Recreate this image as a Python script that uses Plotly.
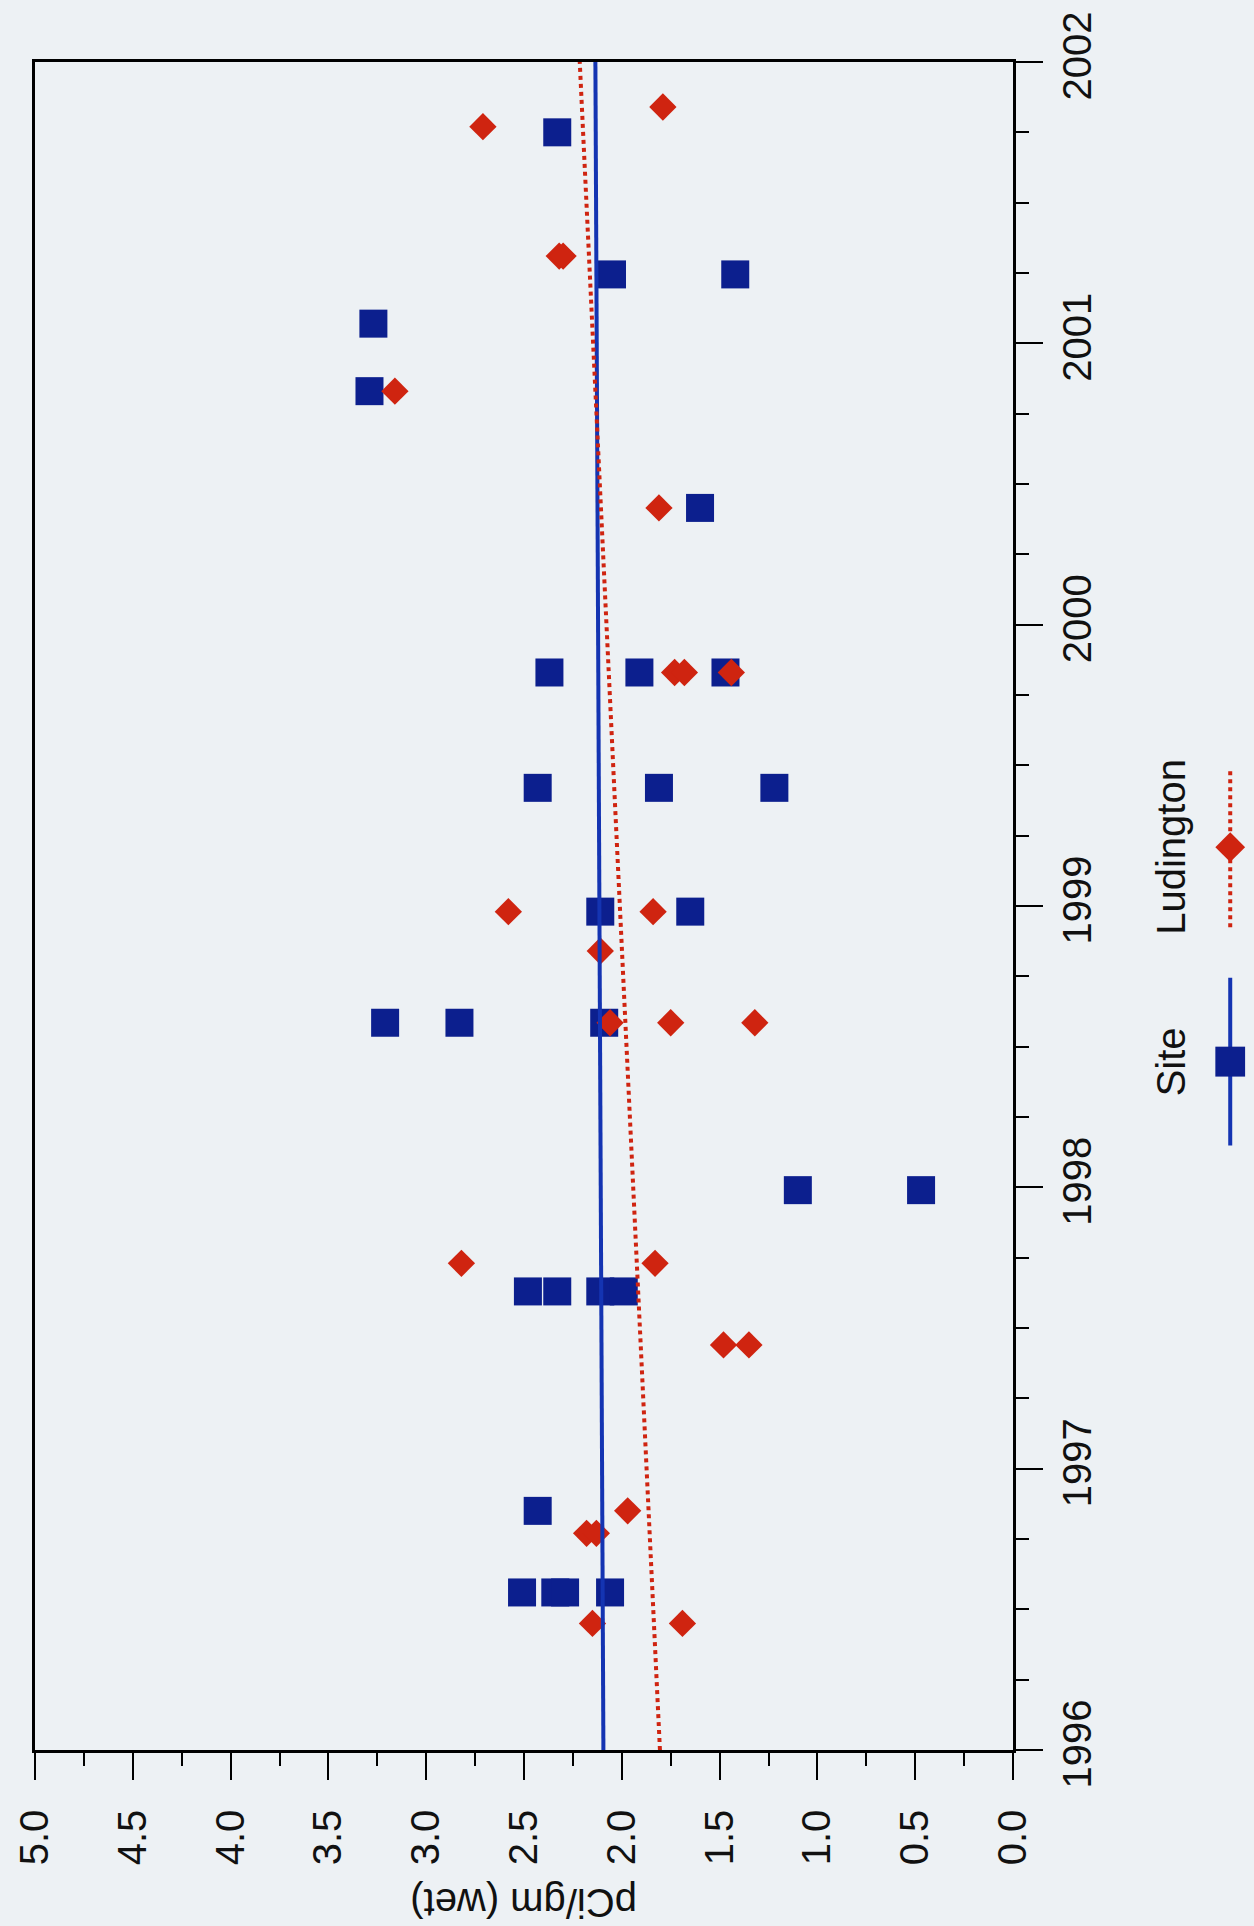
import plotly.graph_objects as go

# ---------------- data ----------------
site_years = [1996.56, 1996.56, 1996.56, 1996.56, 1996.85,
              1997.63, 1997.63, 1997.63, 1997.63,
              1997.99, 1997.99,
              1998.585, 1998.585, 1998.585,
              1998.98, 1998.98,
              1999.42, 1999.42, 1999.42,
              1999.83, 1999.83, 1999.83,
              2000.415, 2000.83, 2001.07,
              2001.245, 2001.245, 2001.75]
site_values = [2.51, 2.34, 2.29, 2.06, 2.43,
               2.48, 2.33, 2.11, 1.99,
               1.10, 0.47,
               3.21, 2.83, 2.09,
               2.11, 1.65,
               2.43, 1.81, 1.22,
               2.37, 1.91, 1.47,
               1.60, 3.29, 3.27,
               2.05, 1.42, 2.33]

lud_years = [1996.45, 1996.45, 1996.77, 1996.77, 1996.85,
             1997.44, 1997.44, 1997.73, 1997.73,
             1998.585, 1998.585, 1998.585, 1998.84,
             1998.98, 1998.98,
             1999.83, 1999.83, 1999.83,
             2000.415, 2000.83, 2001.31, 2001.31,
             2001.77, 2001.84]
lud_values = [2.15, 1.69, 2.18, 2.13, 1.97,
              1.48, 1.35, 2.82, 1.83,
              2.06, 1.75, 1.32, 2.11,
              2.58, 1.84,
              1.73, 1.68, 1.44,
              1.81, 3.16, 2.32, 2.30,
              2.71, 1.79]

trend_years = [1996, 2002]
site_trend = [2.094, 2.135]
lud_trend = [1.805, 2.215]

value_ticks = [5.0, 4.5, 4.0, 3.5, 3.0, 2.5, 2.0, 1.5, 1.0, 0.5, 0.0]
year_ticks = [1996, 1997, 1998, 1999, 2000, 2001, 2002]

series_names = ["Site", "Ludington"]
axis_title = "pCi/gm (wet)"

# ---------------- style ----------------
W, H = 1254, 1926
L, R, T, B = 27, 1013, 58, 1750
BG = "#edf1f4"
NAVY = "#0c1f8e"
BLUE = "#1434b2"
RED = "#cf2410"
FONT = "Liberation Sans, Arial, sans-serif"
FS = 40


def px(x):
    return (x - L) / (R - L)


def py(y):
    return (B - y) / (B - T)


fig = go.Figure()
fig.add_trace(go.Scatter(x=site_values, y=site_years, mode="markers",
                         marker=dict(symbol="square", size=28, color=NAVY,
                                     line=dict(width=0)),
                         name=series_names[0], showlegend=False))
fig.add_trace(go.Scatter(x=lud_values, y=lud_years, mode="markers",
                         marker=dict(symbol="diamond", size=21, color=RED,
                                     line=dict(width=0)),
                         name=series_names[1], showlegend=False))
fig.add_trace(go.Scatter(x=site_trend, y=trend_years, mode="lines",
                         line=dict(color=BLUE, width=4), showlegend=False))
fig.add_trace(go.Scatter(x=lud_trend, y=trend_years, mode="lines",
                         line=dict(color=RED, width=4, dash="dot"),
                         showlegend=False))

axis_common = dict(showline=True, linecolor="black", linewidth=2.5, mirror=True,
                   showgrid=False, zeroline=False, ticks="outside",
                   tickcolor="black", tickwidth=1.5, ticklen=27,
                   tickangle=-90,
                   tickfont=dict(family=FONT, size=FS, color="#111111"))

fig.update_xaxes(range=[5, 0], tickvals=value_ticks,
                 ticktext=[f"{v:.1f}" for v in value_ticks],
                 minor=dict(dtick=0.25, ticks="outside", ticklen=13,
                            tickwidth=1.5, tickcolor="black"),
                 ticklabelstandoff=14,
                 side="bottom", **axis_common)
fig.update_yaxes(range=[1996, 2002], tickvals=year_ticks,
                 ticktext=[str(y) for y in year_ticks],
                 minor=dict(dtick=0.25, ticks="outside", ticklen=13,
                            tickwidth=1.5, tickcolor="black"),
                 side="right", **axis_common)

annotations = [
    dict(text=axis_title, x=0.5, y=py(1904), xref="paper", yref="paper",
         showarrow=False, textangle=180, xanchor="center", yanchor="middle",
         font=dict(family=FONT, size=FS, color="#111111")),
    dict(text=series_names[0], x=px(1172), y=py(1060), xref="paper", yref="paper",
         showarrow=False, textangle=-90, xanchor="center", yanchor="middle",
         font=dict(family=FONT, size=FS, color="#111111")),
    dict(text=series_names[1], x=px(1172), y=py(845), xref="paper", yref="paper",
         showarrow=False, textangle=-90, xanchor="center", yanchor="middle",
         font=dict(family=FONT, size=FS, color="#111111")),
]

lx = 1232
shapes = [
    dict(type="line", xref="paper", yref="paper", x0=px(lx), x1=px(lx),
         y0=py(976), y1=py(1144), line=dict(color=BLUE, width=4)),
    dict(type="rect", xref="paper", yref="paper", x0=px(lx - 15), x1=px(lx + 15),
         y0=py(1060 - 15), y1=py(1060 + 15), fillcolor=NAVY,
         line=dict(width=0)),
    dict(type="line", xref="paper", yref="paper", x0=px(lx), x1=px(lx),
         y0=py(769), y1=py(926), line=dict(color=RED, width=4, dash="dot")),
    dict(type="path", xref="paper", yref="paper",
         path=(f"M {px(lx)} {py(845 - 15)} L {px(lx + 15)} {py(845)} "
               f"L {px(lx)} {py(845 + 15)} L {px(lx - 15)} {py(845)} Z"),
         fillcolor=RED, line=dict(width=0)),
]

fig.update_layout(width=W, height=H,
                  margin=dict(l=L, r=W - R, t=T, b=H - B, pad=0),
                  paper_bgcolor=BG, plot_bgcolor=BG,
                  annotations=annotations, shapes=shapes,
                  showlegend=False)

fig.write_html("out.html")
